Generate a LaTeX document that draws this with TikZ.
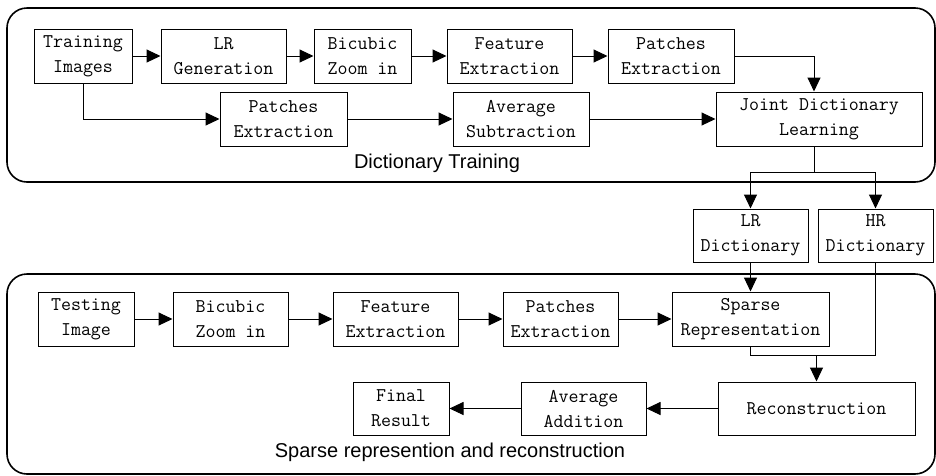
\documentclass[tikz,border=0pt]{standalone}
\usepackage{fontspec}
\setmainfont{Liberation Sans}
\usetikzlibrary{arrows.meta}
\begin{document}
\begin{tikzpicture}[x=1pt,y=-1pt,
 box/.style={draw, line width=1pt, inner sep=0pt, align=center, minimum height=54pt, font=\ttfamily\fontsize{19.4}{25}\selectfont},
 arr/.style={line width=1pt, -{Triangle[length=14pt,width=13pt]}},
 ln/.style={line width=1pt},
 frame/.style={draw, line width=1.6pt, rounded corners=20pt},
 lbl/.style={font=\fontsize{20}{24}\selectfont, inner sep=0pt}]
\useasboundingbox (0,0) rectangle (936,475);
% frames
\draw[frame] (7,8) rectangle (935,182);
\draw[frame] (7,274) rectangle (935,474);
% training row 1
\node[box, minimum width=98pt] (ti) at (83,56) {Training\\Images};
\node[box, minimum width=125pt] (lrg) at (223.5,56) {LR\\Generation};
\node[box, minimum width=97pt] (bz1) at (362.5,56) {Bicubic\\Zoom in};
\node[box, minimum width=125pt] (fe1) at (509.5,56) {Feature\\Extraction};
\node[box, minimum width=126pt] (pe1) at (671,56) {Patches\\Extraction};
% training row 2
\node[box, minimum width=127pt] (pe2) at (283.5,119) {Patches\\Extraction};
\node[box, minimum width=136pt] (as) at (521,119) {Average\\Subtraction};
\node[box, minimum width=206pt] (jdl) at (819,119) {Joint Dictionary\\Learning};
% dictionaries
\node[box, minimum width=115pt, minimum height=53pt] (lrd) at (750.5,235.5) {LR\\Dictionary};
\node[box, minimum width=115pt, minimum height=53pt] (hrd) at (875.5,235.5) {HR\\Dictionary};
% testing row
\node[box, minimum width=96pt] (tst) at (86,319) {Testing\\Image};
\node[box, minimum width=115pt] (bz2) at (230.5,319) {Bicubic\\Zoom in};
\node[box, minimum width=125pt] (fe2) at (395.5,319) {Feature\\Extraction};
\node[box, minimum width=115pt] (pe3) at (560.5,319) {Patches\\Extraction};
\node[box, minimum width=157pt] (sr) at (750.5,319) {Sparse\\Representation};
% bottom row
\node[box, minimum width=197pt, minimum height=53pt] (rec) at (816.5,408.5) {Reconstruction};
\node[box, minimum width=125pt, minimum height=53pt] (aa) at (583.5,408.5) {Average\\Addition};
\node[box, minimum width=96pt, minimum height=53pt] (fr) at (401,408.5) {Final\\Result};
% labels
\node[lbl] (l1) at (437,163) {Dictionary Training};
\node[lbl] (l2) at (450,452) {Sparse represention and reconstruction};
% training connectors
\draw[arr] (ti) -- (lrg);
\draw[arr] (lrg) -- (bz1);
\draw[arr] (bz1) -- (fe1);
\draw[arr] (fe1) -- (pe1);
\draw[arr] (pe1.east) -| ([xshift=-5pt]jdl.north);
\draw[arr] (ti.south) |- (pe2.west);
\draw[arr] (pe2) -- (as);
\draw[arr] (as) -- (jdl);
\coordinate (br) at ([xshift=-5pt,yshift=-26pt]jdl.south);
\draw[ln] ([xshift=-5pt]jdl.south) -- (br);
\draw[arr] (br) -| (lrd.north);
\draw[arr] (br) -| (hrd.north);
% testing connectors
\draw[arr] (tst) -- (bz2);
\draw[arr] (bz2) -- (fe2);
\draw[arr] (fe2) -- (pe3);
\draw[arr] (pe3) -- (sr);
\draw[arr] (lrd) -- (sr);
\coordinate (m1) at ([yshift=-9pt]sr.south);
\draw[ln] (sr.south) -- (m1) -- (m1 -| hrd.south) -- (hrd.south);
\draw[arr] (m1 -| rec.north) -- (rec.north);
\draw[arr] (rec) -- (aa);
\draw[arr] (aa) -- (fr);
\end{tikzpicture}
\end{document}
